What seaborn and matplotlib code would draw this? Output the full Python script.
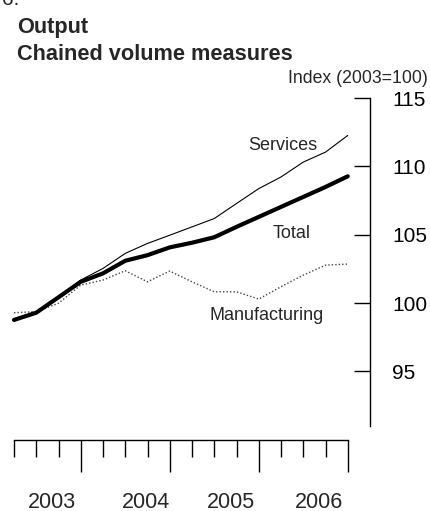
import matplotlib
matplotlib.use("Agg")
import matplotlib.pyplot as plt
import matplotlib.transforms as mtrans
import seaborn as sns
import pandas as pd

# quarterly points, 2003 Q1 .. 2006 Q4
quarters = list(range(16))
total = [98.76, 99.29, 100.42, 101.55, 102.17, 103.09, 103.5, 104.07,
         104.41, 104.81, 105.57, 106.3, 107.03, 107.76, 108.49, 109.27]
services = [98.8, 99.3, 100.45, 101.68, 102.53, 103.63, 104.36, 104.96,
            105.57, 106.18, 107.28, 108.37, 109.22, 110.31, 111.04, 112.26]
manufacturing = [99.29, 99.37, 99.98, 101.31, 101.68, 102.36, 101.55, 102.34,
                 101.55, 100.82, 100.82, 100.29, 101.19, 102.04, 102.77, 102.85]

year_labels = ["2003", "2004", "2005", "2006"]
year_label_pos = [1.7, 5.95, 9.75, 13.7]
year_ticks = [3, 7, 11, 15]
y_ticks = [95, 100, 105, 110, 115]

df = pd.DataFrame({"quarter": quarters, "Total": total,
                   "Services": services, "Manufacturing": manufacturing})

sns.set_style("white")
plt.rcParams["font.family"] = ["Liberation Sans", "DejaVu Sans"]

fig = plt.figure(figsize=(4.3, 5.11), dpi=100)
ax = fig.add_axes([14 / 430, 1 - 426 / 511, 356 / 430, 328 / 511])

sns.lineplot(data=df, x="quarter", y="Services", ax=ax, color="black",
             linewidth=0.8, clip_on=False)
sns.lineplot(data=df, x="quarter", y="Manufacturing", ax=ax, color="#444444",
             linewidth=1.0, linestyle=(0, (1, 1.5)), clip_on=False)
sns.lineplot(data=df, x="quarter", y="Total", ax=ax, color="black",
             linewidth=3.0, clip_on=False)

ax.set_xlim(0, 16)
ax.set_ylim(91, 115)
for s in ["top", "left", "bottom"]:
    ax.spines[s].set_visible(False)
ax.spines["right"].set_linewidth(1.0)
ax.spines["right"].set_color("black")
ax.yaxis.tick_right()
ax.set_yticks(y_ticks)
ax.tick_params(axis="y", direction="in", length=11.5, width=1.0, pad=16,
               labelsize=15, colors="black", right=True, left=False)
ax.set_xticks([])
ax.set_xlabel("")
ax.set_ylabel("")

ax.text(12.08, 111.56, "Services", fontsize=13, ha="center", va="center")
ax.text(12.48, 105.12, "Total", fontsize=13, ha="center", va="center")
ax.text(11.36, 99.05, "Manufacturing", fontsize=13, ha="center", va="center")

# separate time scale bar below the plot
ax2 = fig.add_axes([14 / 430, 1 - 480 / 511, 356 / 430, 40 / 511])
ax2.set_xlim(0, 16)
ax2.set_ylim(0, 1)
for s in ["left", "right", "bottom"]:
    ax2.spines[s].set_visible(False)
ax2.spines["top"].set_bounds(0, 15)
ax2.spines["top"].set_linewidth(1.0)
ax2.spines["top"].set_color("black")
ax2.set_yticks([])
ax2.xaxis.tick_top()
ax2.set_xticks(year_ticks)
ax2.set_xticks(quarters, minor=True)
ax2.tick_params(axis="x", which="major", direction="in", length=23, width=1.0,
                top=True, bottom=False, labeltop=False, labelbottom=False, colors="black")
ax2.tick_params(axis="x", which="minor", direction="in", length=12.2, width=1.0,
                top=True, bottom=False, colors="black")
trans = mtrans.blended_transform_factory(ax2.transData, fig.transFigure)
for pos, lab in zip(year_label_pos, year_labels):
    ax2.text(pos, 1 - 502 / 511, lab, fontsize=15.5, ha="center", va="center",
             transform=trans, clip_on=False)

fig.text(2 / 430, 1 - 5 / 511, "6.", fontsize=15, ha="left", va="baseline")
fig.text(17 / 430, 1 - 33 / 511, "Output", fontsize=15.7, fontweight="bold",
         ha="left", va="baseline")
fig.text(17 / 430, 1 - 60 / 511, "Chained volume measures", fontsize=15.7,
         fontweight="bold", ha="left", va="baseline")
fig.text(428 / 430, 1 - 83 / 511, "Index (2003=100)", fontsize=12.7,
         ha="right", va="baseline")

fig.savefig("out.png", dpi=100)
